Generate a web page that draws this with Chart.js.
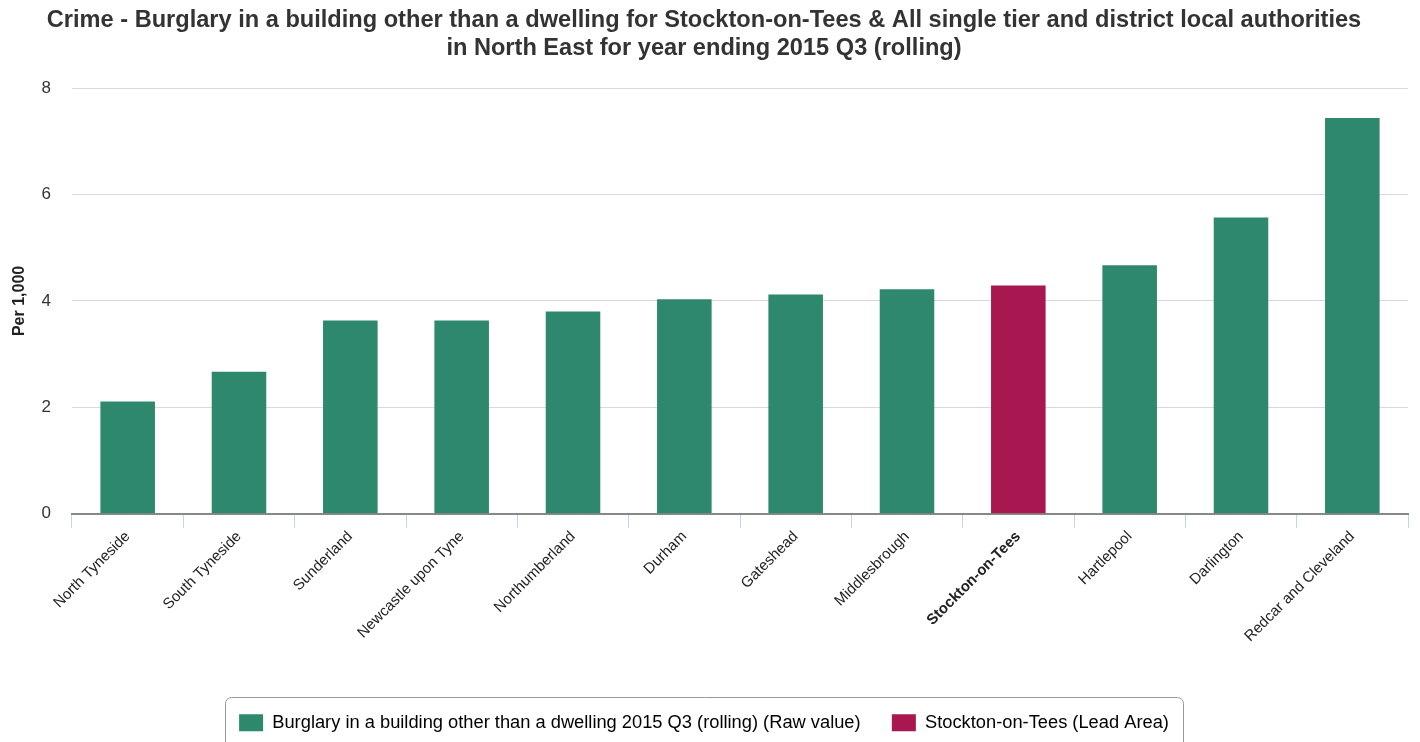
<!DOCTYPE html>
<html>
<head>
<meta charset="utf-8">
<script src="https://cdn.jsdelivr.net/npm/chart.js@4"></script>
<style>
  html, body { margin: 0; padding: 0; background: #fff; }
  #wrap { width: 1420px; height: 742px; }
</style>
</head>
<body>
<div id="wrap"><canvas id="crimeChart"></canvas></div>
<script>
const areas = ['North Tyneside', 'South Tyneside', 'Sunderland', 'Newcastle upon Tyne', 'Northumberland',
  'Durham', 'Gateshead', 'Middlesbrough', 'Stockton-on-Tees', 'Hartlepool', 'Darlington', 'Redcar and Cleveland'];
const ratePer1000 = [2.11, 2.67, 3.63, 3.63, 3.80, 4.03, 4.12, 4.22, 4.29, 4.67, 5.57, 7.44];
const leadArea = 'Stockton-on-Tees';
const yTicks = [0, 2, 4, 6, 8];

const green = '#2d886d';
const lead = '#a8174f';
const font = '"Liberation Sans", Arial, sans-serif';

// rounded box round the legend, like the original
const legendBorder = {
  id: 'legendBorder',
  afterDraw(chart) {
    const boxes = chart.legend.legendHitBoxes;
    if (!boxes || !boxes.length) return;
    const first = boxes[0], last = boxes[boxes.length - 1];
    const x = first.left - 14, y = chart.legend.top - 1;
    const w = last.left + last.width - first.left + 28, h = 60;
    const ctx = chart.ctx;
    ctx.save();
    ctx.strokeStyle = '#999';
    ctx.lineWidth = 1;
    ctx.beginPath();
    ctx.roundRect(Math.round(x) + 0.5, Math.round(y) + 0.5, Math.round(w), h, 6);
    ctx.stroke();
    ctx.restore();
  }
};

new Chart(document.getElementById('crimeChart').getContext('2d'), {
  type: 'bar',
  data: {
    labels: areas,
    datasets: [{
      label: 'Burglary in a building other than a dwelling 2015 Q3 (rolling) (Raw value)',
      data: ratePer1000,
      backgroundColor: areas.map(a => a === leadArea ? lead : green),
      categoryPercentage: 1,
      barPercentage: 0.49
    }]
  },
  options: {
    responsive: true,
    maintainAspectRatio: false,
    animation: false,
    layout: { padding: { left: 0, right: 12, top: 0, bottom: 0 } },
    plugins: {
      title: {
        display: true,
        text: ['Crime - Burglary in a building other than a dwelling for Stockton-on-Tees & All single tier and district local authorities',
               'in North East for year ending 2015 Q3 (rolling)'],
        color: '#333',
        font: { family: font, size: 23.6, weight: 'bold', lineHeight: 1.19 },
        padding: { top: 6, bottom: 26 }
      },
      legend: {
        position: 'bottom',
        labels: {
          boxWidth: 24,
          boxHeight: 17,
          padding: 16,
          color: '#333',
          font: { family: font, size: 18.3 },
          generateLabels: () => [
            // trailing spaces widen the gap between the two items
            { text: 'Burglary in a building other than a dwelling 2015 Q3 (rolling) (Raw value)   ', fillStyle: green, strokeStyle: green, lineWidth: 0 },
            { text: 'Stockton-on-Tees (Lead Area)', fillStyle: lead, strokeStyle: lead, lineWidth: 0 }
          ]
        }
      },
      tooltip: { enabled: false }
    },
    scales: {
      x: {
        grid: { offset: true, drawOnChartArea: false, drawTicks: true, tickLength: 14, tickColor: '#c5d3e6' },
        border: { color: '#888', width: 2 },
        ticks: {
          minRotation: 45,
          maxRotation: 45,
          padding: 0,
          color: '#222',
          font: ctx => ({ family: font, size: 15, weight: areas[ctx.index] === leadArea ? 'bold' : 'normal' })
        },
        afterFit: s => { s.height = 184; }
      },
      y: {
        min: 0,
        max: 8,
        afterBuildTicks: s => { s.ticks = yTicks.map(v => ({ value: v })); },
        grid: { color: '#d9d9d9', drawTicks: false },
        border: { display: false },
        ticks: { padding: 21, color: '#333', font: { family: font, size: 17 } },
        title: { display: true, text: 'Per 1,000', color: '#222', font: { family: font, size: 16, weight: 'bold' }, padding: { top: 10, bottom: 0 } },
        afterFit: s => { s.width = 72; }
      }
    }
  },
  plugins: [legendBorder]
});
</script>
</body>
</html>
